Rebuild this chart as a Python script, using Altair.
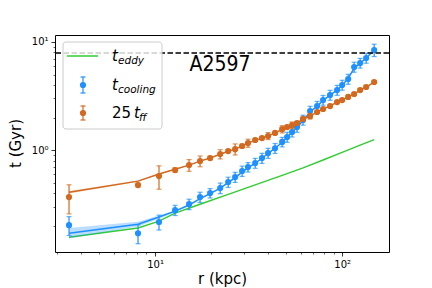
import altair as alt
import pandas as pd

# ---------------- data ----------------
r_kpc = [3.47, 8.11, 10.5, 12.8, 15.2, 17.4, 19.7, 22.3, 24.6, 26.8, 29.2, 31.4,
         34.3, 37.3, 40.2, 43.8, 47.8, 50.8, 54.0, 57.4, 61.8, 67.4, 73.5, 79.1,
         86.2, 94.0, 100.0, 107.7, 115.9, 124.8, 134.4, 148.3]

t_cool = [0.202, 0.170, 0.216, 0.278, 0.316, 0.367, 0.400, 0.445, 0.506, 0.562, 0.640, 0.696,
          0.758, 0.843, 0.938, 1.04, 1.19, 1.32, 1.47, 1.63, 1.90, 2.30, 2.55, 2.90,
          3.23, 3.59, 4.00, 4.54, 5.87, 6.39, 7.11, 8.43]
t_cool_err = [0.040, 0.034, 0.034, 0.030, 0.035, 0.040, 0.040, 0.050, 0.055, 0.060, 0.070, 0.070,
              0.080, 0.090, 0.10, 0.11, 0.12, 0.14, 0.15, 0.17, 0.20, 0.24, 0.27, 0.30,
              0.34, 0.38, 0.42, 0.48, 0.62, 0.66, 0.75, 1.10]

t_ff25 = [0.367, 0.474, 0.574, 0.653, 0.726, 0.791, 0.843, 0.918, 0.979, 1.02, 1.09, 1.16,
          1.24, 1.29, 1.35, 1.44, 1.56, 1.63, 1.70, 1.78, 1.94, 2.06, 2.25, 2.40,
          2.55, 2.78, 2.90, 3.10, 3.30, 3.59, 3.83, 4.26]
t_ff25_err = [0.11, 0.02, 0.14, 0.03, 0.09, 0.09, 0.03, 0.09, 0.03, 0.12, 0.04, 0.10,
              0.04, 0.04, 0.10, 0.04, 0.12, 0.05, 0.12, 0.05, 0.06, 0.12, 0.06, 0.07,
              0.07, 0.08, 0.08, 0.09, 0.09, 0.10, 0.11, 0.12]

model_cool = [0.170, 0.206, 0.240, 0.272, 0.310, 0.355, 0.395, 0.445, 0.500, 0.555, 0.625, 0.685,
              0.755, 0.840, 0.930, 1.04, 1.18, 1.31, 1.46, 1.62, 1.88, 2.25, 2.55, 2.88,
              3.22, 3.58, 3.98, 4.60, 5.70, 6.35, 7.10, 8.40]
model_cool_lo = [0.152, 0.196, 0.232, 0.266, 0.304, 0.349, 0.389, 0.438, 0.493, 0.547, 0.616, 0.676,
                 0.746, 0.829, 0.919, 1.03, 1.17, 1.30, 1.45, 1.61, 1.87, 2.23, 2.53, 2.86,
                 3.20, 3.56, 3.95, 4.57, 5.66, 6.31, 7.06, 8.35]
model_cool_hi = [0.190, 0.217, 0.248, 0.278, 0.316, 0.361, 0.401, 0.452, 0.507, 0.563, 0.634, 0.694,
                 0.764, 0.851, 0.941, 1.05, 1.19, 1.32, 1.47, 1.63, 1.89, 2.27, 2.57, 2.90,
                 3.24, 3.60, 4.01, 4.63, 5.74, 6.39, 7.14, 8.45]

model_ff = [0.408, 0.516, 0.600, 0.665, 0.725, 0.790, 0.845, 0.915, 0.975, 1.02, 1.09, 1.16,
            1.23, 1.29, 1.35, 1.44, 1.55, 1.63, 1.70, 1.78, 1.93, 2.06, 2.24, 2.40,
            2.56, 2.77, 2.90, 3.10, 3.30, 3.58, 3.83, 4.25]
model_ff_lo = [0.397, 0.508, 0.593, 0.659, 0.720, 0.785, 0.840, 0.910, 0.970, 1.015, 1.085, 1.155,
               1.225, 1.285, 1.345, 1.435, 1.545, 1.625, 1.695, 1.775, 1.925, 2.055, 2.235, 2.395,
               2.555, 2.765, 2.895, 3.095, 3.295, 3.575, 3.825, 4.245]
model_ff_hi = [0.419, 0.524, 0.607, 0.671, 0.730, 0.795, 0.850, 0.920, 0.980, 1.025, 1.095, 1.165,
               1.235, 1.295, 1.355, 1.445, 1.555, 1.635, 1.705, 1.785, 1.935, 2.065, 2.245, 2.405,
               2.565, 2.775, 2.905, 3.105, 3.305, 3.585, 3.835, 4.255]

eddy_r = [3.47, 8.11, 10.5, 12.8, 17.4, 24.6, 34.3, 47.8, 61.8, 79.1, 100.0, 124.8, 148.3]
t_eddy = [0.156, 0.190, 0.220, 0.261, 0.315, 0.389, 0.476, 0.583, 0.684, 0.810, 0.952, 1.11, 1.25]

t_hubble = 7.9

x_ticks = [3, 4, 5, 6, 7, 8, 9, 10, 20, 30, 40, 50, 60, 70, 80, 90, 100]
y_ticks = [0.2, 0.3, 0.4, 0.5, 0.6, 0.7, 0.8, 0.9, 1, 2, 3, 4, 5, 6, 7, 8, 9, 10]

GREEN = "#32CD32"
BLUE = "#1E90FF"
ORANGE = "#D2691E"
FONT = "DejaVu Sans"

# ---------------- tables ----------------
pts = pd.DataFrame({
    "r": r_kpc,
    "cool": t_cool,
    "ff": t_ff25,
    "m_cool": model_cool, "m_cool_lo": model_cool_lo, "m_cool_hi": model_cool_hi,
    "m_ff": model_ff, "m_ff_lo": model_ff_lo, "m_ff_hi": model_ff_hi,
})
pts["cool_lo"] = pts["cool"] - pd.Series(t_cool_err)
pts["cool_hi"] = pts["cool"] + pd.Series(t_cool_err)
pts["ff_lo"] = pts["ff"] - pd.Series(t_ff25_err)
pts["ff_hi"] = pts["ff"] + pd.Series(t_ff25_err)
eddy = pd.DataFrame({"r": eddy_r, "t": t_eddy})

xscale = alt.Scale(type="log", domain=[2.92, 178], nice=False)
yscale = alt.Scale(type="log", domain=[0.114, 11.6], nice=False)

xaxis = alt.Axis(
    values=x_ticks, grid=False, domain=False,
    labelExpr="datum.value == 10 ? '10\u00b9' : (datum.value == 100 ? '10\u00b2' : '')",
    tickSize={"condition": {"test": "datum.value == 10 || datum.value == 100", "value": 4}, "value": 2},
    tickWidth={"condition": {"test": "datum.value == 10 || datum.value == 100", "value": 0.8}, "value": 0.6},
    tickColor="black", labelColor="black", labelFont=FONT, labelFontSize=10,
    labelPadding=3, labelOverlap=False, labelFlush=False,
    title="r (kpc)", titleFont=FONT, titleFontSize=15, titleFontWeight="normal",
    titleColor="black", titleY=19, titleBaseline="top",
)
yaxis = alt.Axis(
    values=y_ticks, grid=False, domain=False,
    labelExpr="datum.value == 1 ? '10\u2070' : (datum.value == 10 ? '10\u00b9' : '')",
    tickSize={"condition": {"test": "datum.value == 1 || datum.value == 10", "value": 4}, "value": 2},
    tickWidth={"condition": {"test": "datum.value == 1 || datum.value == 10", "value": 0.8}, "value": 0.6},
    tickColor="black", labelColor="black", labelFont=FONT, labelFontSize=10,
    labelPadding=3, labelOverlap=False, labelFlush=False,
    title="t (Gyr)", titleFont=FONT, titleFontSize=15, titleFontWeight="normal",
    titleColor="black", titleX=-40, titleY=108, titleAngle=270,
    titleBaseline="middle", titleAlign="center",
)

def X(field):
    return alt.X(field, type="quantitative", scale=xscale, axis=xaxis)

def Y(field):
    return alt.Y(field, type="quantitative", scale=yscale, axis=yaxis)

base = alt.Chart(pts)

green_line = alt.Chart(eddy).mark_line(color=GREEN, strokeWidth=1.5).encode(
    x=X("r"), y=Y("t"))

cool_band = base.mark_area(color=BLUE, opacity=0.3).encode(
    x=X("r"), y=Y("m_cool_lo"), y2="m_cool_hi")
cool_line = base.mark_line(color=BLUE, strokeWidth=1.5).encode(x=X("r"), y=Y("m_cool"))
cool_err = base.mark_rule(color=BLUE, strokeWidth=1.2).encode(
    x=X("r"), y=Y("cool_lo"), y2="cool_hi")
cool_cap_lo = base.mark_tick(color=BLUE, orient="horizontal", size=5, thickness=1.2).encode(
    x=X("r"), y=Y("cool_lo"))
cool_cap_hi = base.mark_tick(color=BLUE, orient="horizontal", size=5, thickness=1.2).encode(
    x=X("r"), y=Y("cool_hi"))
cool_pts = base.mark_circle(color=BLUE, size=38, opacity=1).encode(x=X("r"), y=Y("cool"))

ff_band = base.mark_area(color=ORANGE, opacity=0.3).encode(
    x=X("r"), y=Y("m_ff_lo"), y2="m_ff_hi")
ff_line = base.mark_line(color=ORANGE, strokeWidth=1.5).encode(x=X("r"), y=Y("m_ff"))
ff_err = base.mark_rule(color=ORANGE, strokeWidth=1.2).encode(
    x=X("r"), y=Y("ff_lo"), y2="ff_hi")
ff_cap_lo = base.mark_tick(color=ORANGE, orient="horizontal", size=5, thickness=1.2).encode(
    x=X("r"), y=Y("ff_lo"))
ff_cap_hi = base.mark_tick(color=ORANGE, orient="horizontal", size=5, thickness=1.2).encode(
    x=X("r"), y=Y("ff_hi"))
ff_pts = base.mark_circle(color=ORANGE, size=38, opacity=1).encode(x=X("r"), y=Y("ff"))

hub = alt.Chart(pd.DataFrame({"t": [t_hubble]})).mark_rule(
    color="black", strokeWidth=1.5, strokeDash=[5.5, 2.5]).encode(y=Y("t"))

one = alt.Chart(pd.DataFrame({"a": [0]}))

leg_box = one.mark_rect(fill="white", fillOpacity=0.8, stroke="#cccccc", strokeWidth=1,
                        cornerRadius=3).encode(
    x=alt.value(8), x2=alt.value(107), y=alt.value(7), y2=alt.value(94))
leg_green = one.mark_rule(color=GREEN, strokeWidth=1.5).encode(
    x=alt.value(12), x2=alt.value(43), y=alt.value(21))
leg_b_err = one.mark_rule(color=BLUE, strokeWidth=1.2).encode(
    x=alt.value(28), y=alt.value(42), y2=alt.value(58))
leg_b_c1 = one.mark_rule(color=BLUE, strokeWidth=1.2).encode(
    x=alt.value(25.5), x2=alt.value(30.5), y=alt.value(42))
leg_b_c2 = one.mark_rule(color=BLUE, strokeWidth=1.2).encode(
    x=alt.value(25.5), x2=alt.value(30.5), y=alt.value(58))
leg_b_pt = one.mark_circle(color=BLUE, size=38, opacity=1).encode(
    x=alt.value(28), y=alt.value(50))
leg_o_err = one.mark_rule(color=ORANGE, strokeWidth=1.2).encode(
    x=alt.value(28), y=alt.value(71), y2=alt.value(85))
leg_o_c1 = one.mark_rule(color=ORANGE, strokeWidth=1.2).encode(
    x=alt.value(25.5), x2=alt.value(30.5), y=alt.value(71))
leg_o_c2 = one.mark_rule(color=ORANGE, strokeWidth=1.2).encode(
    x=alt.value(25.5), x2=alt.value(30.5), y=alt.value(85))
leg_o_pt = one.mark_circle(color=ORANGE, size=38, opacity=1).encode(
    x=alt.value(28), y=alt.value(78))

leg_txt = pd.DataFrame({
    "txt": ["t", "eddy", "t", "cooling", "t", "ff"],
    "px": [57, 63, 57, 63, 79, 84],
    "py": [26, 29, 54.5, 57.5, 83, 86],
    "fs": [15, 10.5, 15, 10.5, 15, 10.5],
})
leg_italic = alt.Chart(leg_txt).mark_text(
    font=FONT, fontStyle="italic", align="left", baseline="alphabetic", color="black").encode(
    x=alt.X("px:Q", scale=None), y=alt.Y("py:Q", scale=None),
    size=alt.Size("fs:Q", scale=None, legend=None), text="txt:N")
leg_25 = one.mark_text(font=FONT, fontSize=15, align="left", baseline="alphabetic",
                       color="black", text="25").encode(x=alt.value(57), y=alt.value(83))

title_txt = one.mark_text(font="DejaVu Sans Condensed, DejaVu Sans", fontSize=21, align="center",
                          baseline="alphabetic", color="black", text="A2597").encode(
    x=alt.value(165), y=alt.value(36))

chart = alt.layer(
    green_line, cool_band, cool_line, cool_err, cool_cap_lo, cool_cap_hi, cool_pts,
    ff_band, ff_line, ff_err, ff_cap_lo, ff_cap_hi, ff_pts,
    hub, leg_box, leg_green, leg_b_err, leg_b_c1, leg_b_c2, leg_b_pt,
    leg_o_err, leg_o_c1, leg_o_c2, leg_o_pt, leg_italic, leg_25, title_txt,
).properties(
    width=334, height=217,
    padding={"left": 47, "top": 27, "right": 35, "bottom": 36},
    autosize=alt.AutoSizeParams(type="none"),
).configure_view(stroke="black", strokeWidth=1)

chart.save("out.html", embed_options={"renderer": "svg", "actions": False})
